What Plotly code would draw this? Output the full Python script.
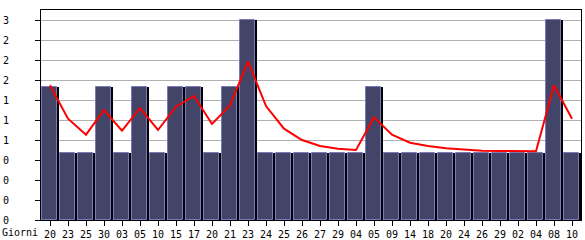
import plotly.graph_objects as go

days = ["20", "23", "25", "30", "03", "05", "10", "15", "17", "20",
        "21", "23", "24", "25", "26", "27", "29", "04", "05", "09",
        "14", "18", "20", "24", "26", "29", "02", "04", "08", "10"]
visits = [2, 1, 1, 2, 1, 2, 1, 2, 2, 1,
          2, 3, 1, 1, 1, 1, 1, 1, 2, 1,
          1, 1, 1, 1, 1, 1, 1, 1, 3, 1]
trend = [2.02, 1.52, 1.28, 1.65, 1.34, 1.68, 1.35, 1.70, 1.86, 1.44,
         1.72, 2.38, 1.71, 1.37, 1.20, 1.11, 1.07, 1.05, 1.54, 1.28,
         1.16, 1.11, 1.075, 1.055, 1.04, 1.035, 1.03, 1.03, 2.02, 1.52]
y_ticks = [0, 0.3, 0.6, 0.9, 1.2, 1.5, 1.8, 2.1, 2.4, 2.7, 3.0]
y_tick_text = ["0", "0", "0", "0", "1", "1", "1", "2", "2", "2", "3"]

xs = list(range(len(days)))
pitch = 18.0
font = dict(family="DejaVu Sans Mono", size=10, color="black")

fig = go.Figure()
# shadow bars
fig.add_trace(go.Bar(x=xs, y=visits, width=15 / pitch, offset=-6 / pitch,
                     marker=dict(color="black", line=dict(width=0)),
                     hoverinfo="skip", showlegend=False))
# main bars
fig.add_trace(go.Bar(x=xs, y=visits, width=15 / pitch, offset=-8 / pitch,
                     marker=dict(color="#424468", line=dict(color="#7a7ab8", width=1)),
                     showlegend=False))
fig.add_trace(go.Scatter(x=xs, y=trend, mode="lines",
                         line=dict(color="#ff0000", width=2), showlegend=False))

fig.update_layout(
    width=585, height=240,
    margin=dict(l=41, r=4, t=10, b=20, autoexpand=False),
    plot_bgcolor="white", paper_bgcolor="white",
    barmode="overlay", bargap=0,
    font=font,
)
fig.update_xaxes(range=[-0.5, len(days) - 0.5], tickmode="array", tickvals=xs, ticktext=days,
                 ticks="outside", ticklen=5, tickcolor="black", showgrid=False,
                 showline=True, mirror=True, linecolor="black", linewidth=1,
                 zeroline=False, tickfont=font, automargin=False)
fig.update_yaxes(range=[0, 3.15], tickmode="array", tickvals=y_ticks, ticktext=y_tick_text,
                 ticks="outside", ticklen=5, tickcolor="black", showgrid=True,
                 gridcolor="#b0b0b0", gridwidth=1,
                 showline=True, mirror=True, linecolor="black", linewidth=1,
                 zeroline=False, tickfont=font, ticklabelstandoff=24, automargin=False)
fig.add_annotation(text="Giorni", xref="paper", yref="paper", x=0, y=0,
                   xshift=-41, yshift=-5, xanchor="left", yanchor="top",
                   showarrow=False, font=font)

fig.write_html("out.html")
